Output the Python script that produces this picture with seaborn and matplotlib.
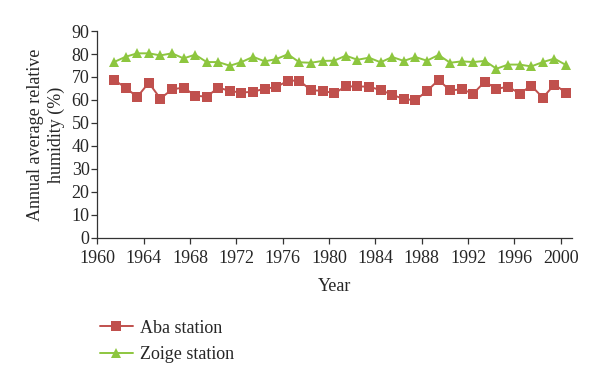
import pandas as pd
import numpy as np
import matplotlib.pyplot as plt
import seaborn as sns

# annual average relative humidity (%), 1961-2000
years = list(range(1961, 2001))
aba = [68.7, 65.4, 61.3, 67.5, 60.6, 64.6, 65.4, 61.9, 61.4, 65.4,
       63.9, 63.2, 63.6, 64.9, 65.6, 68.4, 68.4, 64.2, 64.0, 62.9,
       65.9, 65.9, 65.8, 64.3, 62.3, 60.4, 59.9, 63.9, 68.7, 64.2,
       64.6, 62.8, 68.0, 64.8, 65.8, 62.8, 66.2, 61.0, 66.7, 63.2]
zoige = [76.5, 78.8, 80.3, 80.3, 79.4, 80.3, 78.1, 79.7, 76.5, 76.5,
         74.9, 76.5, 78.8, 76.8, 77.8, 79.9, 76.4, 76.2, 77.0, 77.1,
         79.3, 77.5, 78.4, 76.4, 78.7, 77.0, 78.7, 77.1, 79.6, 76.2,
         76.8, 76.5, 77.0, 73.6, 75.4, 75.4, 74.6, 76.5, 78.0, 75.2]

df = pd.concat([
    pd.DataFrame({"year": years, "humidity": aba, "station": "Aba station"}),
    pd.DataFrame({"year": years, "humidity": zoige, "station": "Zoige station"}),
], ignore_index=True)
# points sit in the middle of each year slot
df["xpos"] = df["year"] + 0.45

sns.set_style("white")
plt.rcParams['font.family'] = ['Liberation Serif', 'DejaVu Serif']

fig = plt.figure(figsize=(6, 3.88), dpi=100)
ax = fig.add_axes([0.162, 0.387, 0.792, 0.533])

colors = {"Aba station": "#C0504D", "Zoige station": "#8DC63F"}
sns.lineplot(data=df, x="xpos", y="humidity", hue="station", style="station",
             palette=colors, markers={"Aba station": "s", "Zoige station": "^"},
             dashes=False, markersize=6.5, markeredgewidth=0, linewidth=1.4,
             ax=ax, legend=True)

fs = 13
ax.set_xlim(1960, 2001)
ax.set_ylim(0, 90)
ax.set_xticks(range(1960, 2001, 4))
ax.set_yticks(range(0, 91, 10))
ax.tick_params(axis='both', labelsize=fs, direction='out', length=4,
               width=0.9, color='#333333', left=True, bottom=True)
ax.tick_params(axis='x', pad=5)
ax.tick_params(axis='y', pad=1.5)
ax.set_xlabel("Year", fontsize=fs, labelpad=8)
ax.set_ylabel("Annual average relative\nhumidity (%)", fontsize=fs,
              labelpad=5, multialignment='center', linespacing=1.25)
for s in ["top", "right"]:
    ax.spines[s].set_visible(False)
for s in ["left", "bottom"]:
    ax.spines[s].set_color("#333333")
    ax.spines[s].set_linewidth(0.9)

handles, labels = ax.get_legend_handles_labels()
ax.legend(handles, labels, loc="upper left", bbox_to_anchor=(0.155, 0.195),
          bbox_transform=fig.transFigure, frameon=False, fontsize=fs,
          handlelength=1.8, handletextpad=0.4, labelspacing=0.55, borderaxespad=0)

plt.savefig("out.png", dpi=100)
